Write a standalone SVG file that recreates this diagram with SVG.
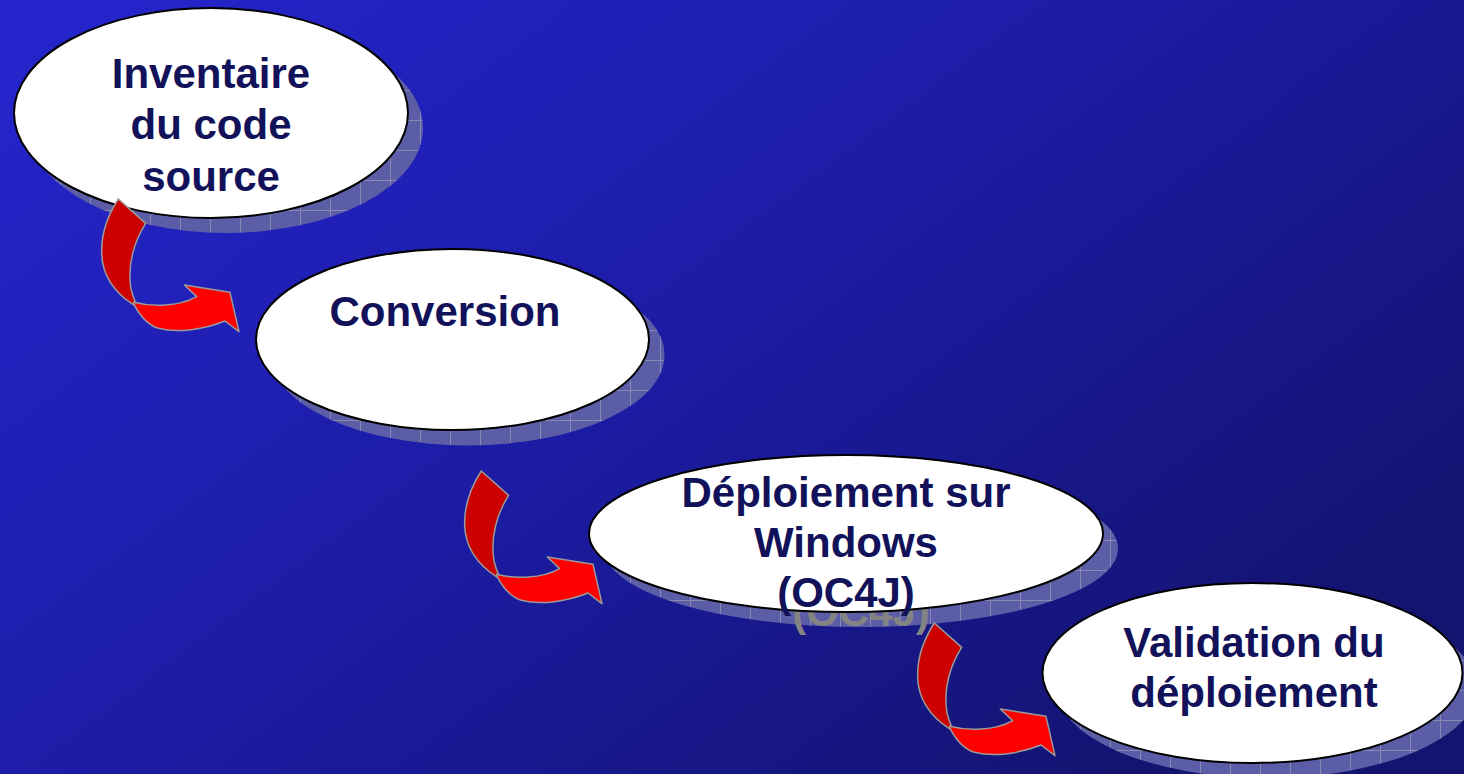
<svg xmlns="http://www.w3.org/2000/svg" width="1464" height="774" viewBox="0 0 1464 774">
<defs>
<linearGradient id="bg" x1="0" y1="0" x2="1" y2="0.7">
<stop offset="0" stop-color="#2525cf"/>
<stop offset="0.5" stop-color="#1c1ca6"/>
<stop offset="1" stop-color="#131370"/>
</linearGradient>
<pattern id="grid" width="30" height="30" patternUnits="userSpaceOnUse">
<rect width="30" height="30" fill="#5b5da6"/>
<path d="M0,0.5 H30 M0.5,0 V30" stroke="#8789b3" stroke-width="1" fill="none"/>
</pattern>
<g id="arrow">
<path class="back" d="M70,12 L152,85 C118,138 96,210 108,282 C112,300 118,315 124,328 L116,330 C70,300 22,250 20,175 C18,110 42,55 70,12 Z"/>
<path class="front" d="M116,322 C170,336 250,336 305,305 L268,270 L405,292 L432,410 L390,378 C330,402 250,416 190,400 C158,390 134,362 116,326 Z"/>
</g>
</defs>
<style>
.shadow{fill:url(#grid);}
.node{fill:#ffffff;stroke:#000000;stroke-width:2;}
.label{font-family:"Liberation Sans",Arial,sans-serif;font-weight:bold;font-size:42px;fill:#12125a;text-anchor:middle;}
.ghost{font-family:"Liberation Sans",Arial,sans-serif;font-weight:bold;font-size:42px;fill:#838383;text-anchor:middle;}
.back{fill:#cc0000;stroke:#9a9a9a;stroke-width:4.5;stroke-linejoin:round;}
.front{fill:#ff0000;stroke:#9a9a9a;stroke-width:4.5;stroke-linejoin:round;}
</style>
<rect width="1464" height="774" fill="url(#bg)"/>

<g id="node1">
<ellipse class="shadow" cx="226" cy="128" rx="197" ry="105"/>
<ellipse class="node" cx="211" cy="113" rx="197" ry="105"/>
<text class="label" x="211" y="88">Inventaire</text>
<text class="label" x="211" y="139">du code</text>
<text class="label" x="211" y="191">source</text>
</g>

<g id="node2">
<ellipse class="shadow" cx="468" cy="355" rx="196.5" ry="90.5"/>
<ellipse class="node" cx="452.5" cy="339.5" rx="196.5" ry="90.5"/>
<text class="label" x="445" y="326">Conversion</text>
</g>

<g id="node3">
<ellipse class="shadow" cx="861" cy="548.5" rx="257" ry="78.5"/>
<text class="ghost" x="861" y="626">(OC4J)</text>
<ellipse class="node" cx="846" cy="533.5" rx="257" ry="78.5"/>
<text class="label" x="846" y="507">Déploiement sur</text>
<text class="label" x="846" y="557">Windows</text>
<text class="label" x="846" y="607">(OC4J)</text>
</g>

<g id="node4">
<ellipse class="shadow" cx="1267" cy="688" rx="210" ry="90"/>
<ellipse class="node" cx="1252.5" cy="673" rx="210" ry="90"/>
<text class="label" x="1254" y="657">Validation du</text>
<text class="label" x="1254" y="707">déploiement</text>
</g>

<g id="connectors">
<use href="#arrow" transform="translate(95,195) scale(0.3333)"/>
<use href="#arrow" transform="translate(458,467) scale(0.3333)"/>
<use href="#arrow" transform="translate(911,619) scale(0.3333)"/>
</g>
</svg>
